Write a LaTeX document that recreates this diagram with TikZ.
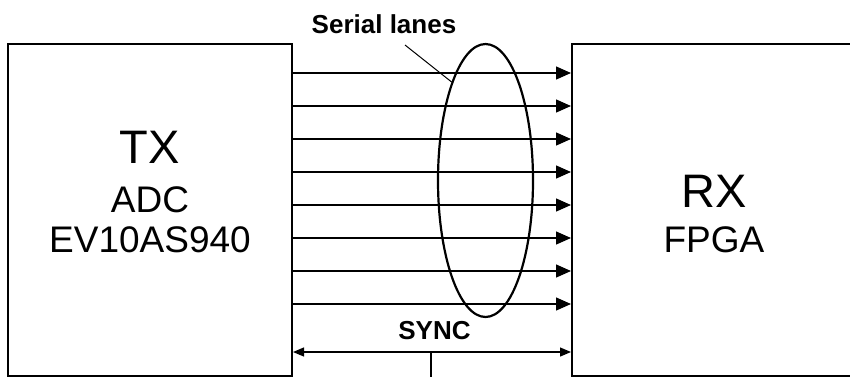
\documentclass[tikz,border=0pt]{standalone}
\usepackage{fontspec}
\setmainfont{Liberation Sans}
\usetikzlibrary{arrows.meta,shapes.geometric}
\begin{document}
\begin{tikzpicture}[x=1pt,y=-1pt,
  box/.style={draw,line width=2pt,rectangle,inner sep=0pt,minimum width=284pt,minimum height=332pt},
  lane/.style={line width=1.3pt,-{Triangle[length=15pt,width=13pt]}},
  syncline/.style={line width=1.2pt,{Triangle[length=11pt,width=9pt]}-{Triangle[length=11pt,width=9pt]}},
  big/.style={font=\fontsize{47}{50}\selectfont,anchor=base,inner sep=0pt},
  mid/.style={font=\fontsize{37}{40}\selectfont,anchor=base,inner sep=0pt},
  lbl/.style={font=\bfseries\fontsize{26}{28}\selectfont,anchor=base,inner sep=0pt}]
\useasboundingbox (0,0) rectangle (850,378);
\clip (0,0) rectangle (850,378);
\node[box] (tx) at (150,210) {};
\node[box] (rx) at (714,210) {};
\node[big] (txt1) at (150,163) {TX};
\node[mid] (txt2) at (150,212) {ADC};
\node[mid] (txt3) at (150,252) {EV10AS940};
\node[big] (rxt1) at (714,207) {RX};
\node[mid] (rxt2) at (714,252) {FPGA};
\foreach \y [count=\i] in {73,106,139,172,205,238,271,304} {
  \coordinate (l\i) at (0,\y);
  \draw[lane] (tx.east |- l\i) -- (rx.west |- l\i);
}
\node[draw,ellipse,line width=2.2pt,inner sep=0pt,minimum width=95pt,minimum height=273pt] (bundle) at (485.5,180.5) {};
\node[lbl] (serial) at (384,33) {Serial lanes};
\coordinate (lead) at (405,45);
\draw[line width=1pt] (lead) -- (bundle.109.5);
\coordinate (s) at (0,352);
\draw[syncline] (tx.east |- s) -- (rx.west |- s);
\node[lbl] (sync) at (434.5,339) {SYNC};
\coordinate (stemtop) at (431,352);
\draw[line width=1.2pt] (stemtop) -- (stemtop |- tx.south);
\end{tikzpicture}
\end{document}
